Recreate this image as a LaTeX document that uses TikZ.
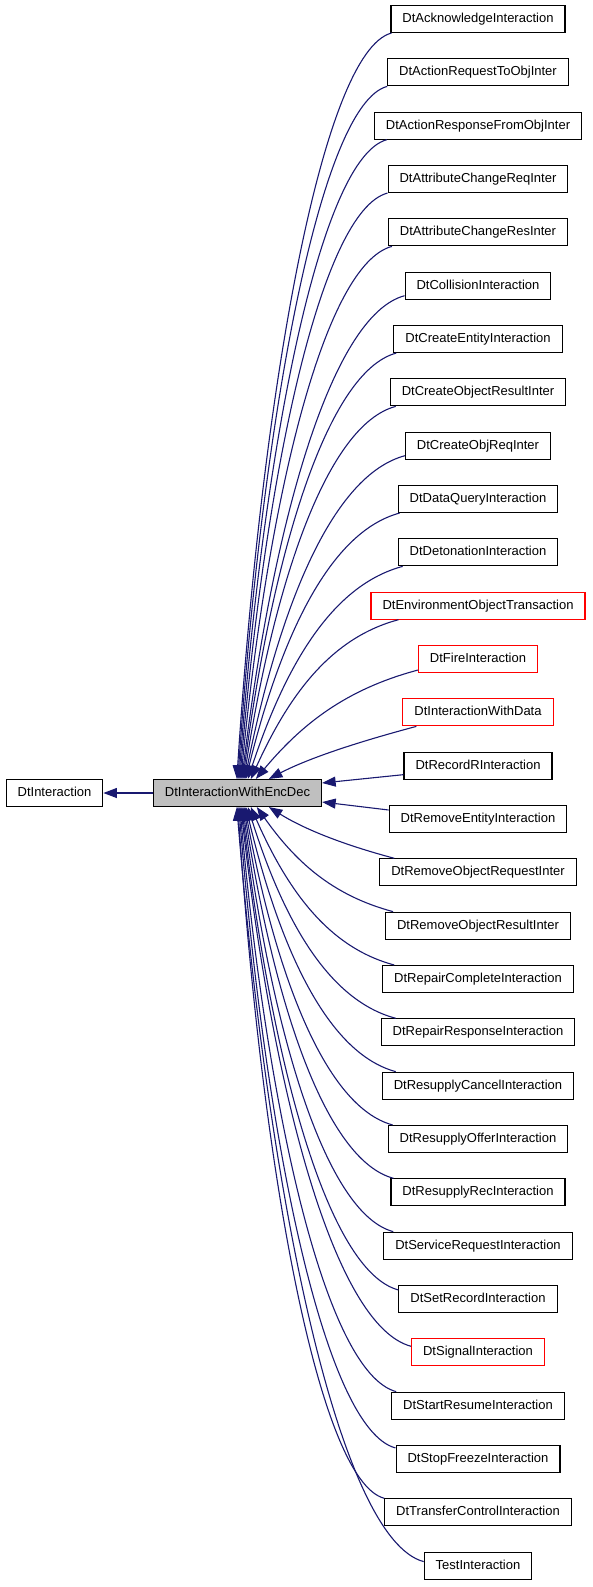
\documentclass[tikz,border=0pt]{standalone}
\usepackage{fontspec}
\setmainfont{Liberation Sans}
\usetikzlibrary{arrows.meta,calc}
\definecolor{edgeblue}{HTML}{191970}
\definecolor{boxred}{HTML}{FF0000}
\definecolor{maingray}{HTML}{BFBFBF}
\tikzset{
  cls/.style={draw=black, line width=1.1pt, fill=white,
    font=\fontsize{13}{15}\selectfont, inner xsep=11.5pt, inner ysep=0pt,
    minimum height=27pt, text height=9.6pt, text depth=2.8pt},
  edge/.style={draw=edgeblue, line width=1.1pt,
    -{Triangle[length=13.5pt,width=10pt]}}
}
% edge from the lower left of a class above the main class to its top side
\newcommand\topedge[4]{%
  \draw[edge] let \p1=($(#1.south west)+(#2,#3)$), \p2=($(main.north west)+(#4,0)$),
    \n1={\x1-\x2}, \n2={\y1-\y2},
    \n3={atan2(\n2, 0.5*\n1*pow(\n1/\n2,0.3))},
    \n4={0.5*\n2+0.1*\n1}
  in (\p1) .. controls +(-0.45*\n1,-0.12*\n1) and +(\n3:\n4) .. (\p2);}
% edge from the upper left of a class below the main class to its bottom side
\newcommand\botedge[4]{%
  \draw[edge] let \p1=($(#1.north west)+(#2,-#3)$), \p2=($(main.south west)+(#4,0)$),
    \n1={\x1-\x2}, \n2={\y2-\y1},
    \n3={atan2(\n2, 0.5*\n1*pow(\n1/\n2,0.3))},
    \n4={0.5*\n2+0.1*\n1}
  in (\p1) .. controls +(-0.45*\n1,0.12*\n1) and +(-\n3:\n4) .. (\p2);}
\begin{document}
\begin{tikzpicture}[x=1pt,y=1pt]
\useasboundingbox (0,0) rectangle (592,-1587);
\node[cls] (dti) at (54.5,-793) {DtInteraction};
\node[cls, fill=maingray] (main) at (237.5,-793) {DtInteractionWithEncDec};
\foreach \i/\nm/\tx/\col in {
  0/ack/DtAcknowledgeInteraction/black,
  1/areq/DtActionRequestToObjInter/black,
  2/aresp/DtActionResponseFromObjInter/black,
  3/attrq/DtAttributeChangeReqInter/black,
  4/attrs/DtAttributeChangeResInter/black,
  5/coll/DtCollisionInteraction/black,
  6/cent/DtCreateEntityInteraction/black,
  7/cores/DtCreateObjectResultInter/black,
  8/coreq/DtCreateObjReqInter/black,
  9/dq/DtDataQueryInteraction/black,
  10/det/DtDetonationInteraction/black,
  11/env/DtEnvironmentObjectTransaction/boxred,
  12/fire/DtFireInteraction/boxred,
  13/iwd/DtInteractionWithData/boxred,
  14/recr/DtRecordRInteraction/black,
  15/rment/DtRemoveEntityInteraction/black,
  16/rorq/DtRemoveObjectRequestInter/black,
  17/rores/DtRemoveObjectResultInter/black,
  18/repc/DtRepairCompleteInteraction/black,
  19/repr/DtRepairResponseInteraction/black,
  20/rsc/DtResupplyCancelInteraction/black,
  21/rso/DtResupplyOfferInteraction/black,
  22/rsr/DtResupplyRecInteraction/black,
  23/srv/DtServiceRequestInteraction/black,
  24/setr/DtSetRecordInteraction/black,
  25/sig/DtSignalInteraction/boxred,
  26/sres/DtStartResumeInteraction/black,
  27/sfrz/DtStopFreezeInteraction/black,
  28/tctl/DtTransferControlInteraction/black,
  29/test/TestInteraction/black}
  {\node[cls, draw=\col] (\nm) at (478,{-19-\i*53.333}) {\tx};}
% inheritance to the base class
\draw[edge] (main.west) -- (dti.east);
% derived classes above
\topedge{ack}{1}{0}{84}
\topedge{areq}{0}{0}{85}
\topedge{aresp}{13}{0}{86}
\topedge{attrq}{0}{0}{87}
\topedge{attrs}{4}{0}{88}
\topedge{coll}{0}{4}{89}
\topedge{cent}{3}{0}{90}
\topedge{cores}{6}{0}{91}
\topedge{coreq}{0}{4}{92}
\topedge{dq}{2}{0}{93}
\topedge{det}{5}{0}{95}
\topedge{env}{28}{0}{98}
\topedge{fire}{0}{3}{103}
\topedge{iwd}{14}{0}{116}
% derived classes at the side
\draw[edge] ($(recr.west)+(0,-9)$) -- ($(main.east)+(0,10)$);
\draw[edge] ($(rment.west)+(0,9)$) -- ($(main.east)+(0,-9)$);
% derived classes below
\botedge{rorq}{15}{0}{116}
\botedge{rores}{8}{0}{104}
\botedge{repc}{12}{0}{98}
\botedge{repr}{15}{0}{95}
\botedge{rsc}{14}{0}{93}
\botedge{rso}{5}{0}{92}
\botedge{rsr}{3}{0}{91}
\botedge{srv}{10}{0}{90}
\botedge{setr}{0}{5}{89}
\botedge{sig}{0}{8}{88}
\botedge{sres}{5}{0}{87}
\botedge{sfrz}{0}{3}{86}
\botedge{tctl}{0}{0}{85}
\botedge{test}{0}{10}{84}
\end{tikzpicture}
\end{document}
